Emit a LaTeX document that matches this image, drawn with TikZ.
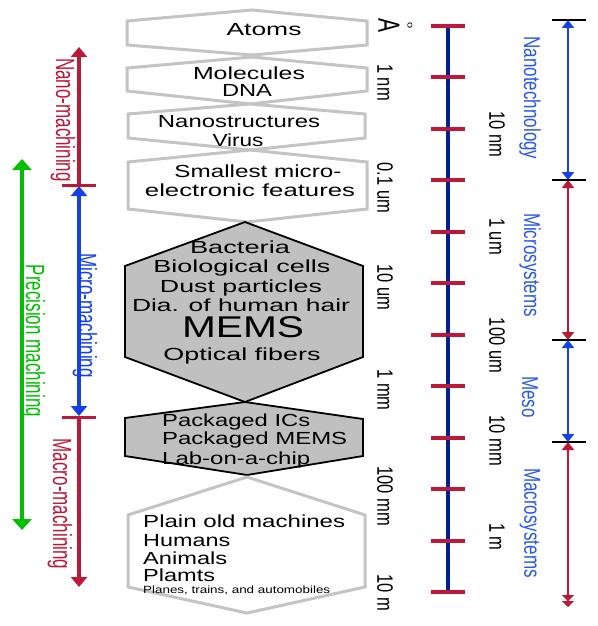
\documentclass[tikz,border=0pt]{standalone}
\usepackage{fontspec}
\setmainfont{Liberation Sans}
\usepackage{graphicx}
\usetikzlibrary{arrows.meta}
\definecolor{crim}{RGB}{188,24,56}
\definecolor{brblue}{RGB}{20,64,232}
\definecolor{txtblue}{RGB}{40,88,232}
\definecolor{dkblue}{RGB}{0,32,152}
\definecolor{grn}{RGB}{0,192,0}
\definecolor{lgray}{RGB}{196,196,196}
\definecolor{mgray}{RGB}{192,192,192}
\newcommand\fitw[2]{\resizebox{#1pt}{\height}{#2}}
\newcommand\tallr[2]{\scalebox{1}[#1]{#2}}
\begin{document}
\begin{tikzpicture}[x=1pt,y=-1pt,
  txt/.style={inner sep=0pt, anchor=base, font=\fontsize{17.5}{21}\selectfont},
  txtl/.style={txt, anchor=base west},
  rlab/.style={rotate=-90, inner sep=0pt, font=\fontsize{17}{20}\selectfont},
  slab/.style={rotate=-90, inner sep=0pt, font=\fontsize{16.5}{20}\selectfont},
  hexw/.style={draw=lgray, line width=3pt, fill=white},
  hexg/.style={draw=black, line width=1.8pt, fill=mgray},
  bigone/.style={line width=4pt, -{Triangle[width=16pt,length=10pt]}},
  bigtwo/.style={line width=4pt, {Triangle[width=16pt,length=10pt]}-{Triangle[width=16pt,length=10pt]}},
  grntwo/.style={line width=4pt, {Triangle[width=19pt,length=11pt]}-{Triangle[width=19pt,length=11pt]}},
  smtwo/.style={line width=2.5pt, {Triangle[width=12pt,length=8pt]}-{Triangle[width=12pt,length=8pt]}},
  smend/.style={line width=2.5pt, {Triangle[width=12pt,length=8pt]}-{Triangle[width=12pt,length=6pt]Triangle[width=12pt,length=6pt]}},
  lefttick/.style={crim, line width=3pt},
  righttick/.style={black, line width=1.3pt},
  scaletick/.style={crim, line width=4pt}
]
\useasboundingbox (0,0) rectangle (597,626);
\fill[white] (0,0) rectangle (597,626);

% hexagons
\draw[hexw] (127,21) -- (252,10) -- (367,21) -- (367,45) -- (252,55) -- (127,45) -- cycle;
\draw[hexw] (127,68) -- (252,57) -- (367,68) -- (367,91) -- (250,104) -- (127,91) -- cycle;
\draw[hexw] (128,114) -- (250,104) -- (365,114) -- (365,138) -- (250,150) -- (128,138) -- cycle;
\draw[hexw] (128,162) -- (250,150) -- (367,162) -- (367,209) -- (247,222) -- (128,209) -- cycle;
\draw[hexg] (245,222) -- (363,266) -- (363,357) -- (245,402) -- (125,357) -- (125,266) -- cycle;
\draw[hexg] (245,402) -- (363,419) -- (363,456) -- (247,475) -- (125,456) -- (125,418) -- cycle;
\draw[hexw] (247,477) -- (365,515) -- (365,587) -- (247,613) -- (128,587) -- (128,515) -- cycle;

% hexagon texts
\node[txt] (tAtoms) at (264,35.3) {\fitw{75}{Atoms}};
\node[txt] (tMol) at (249,79.3) {\fitw{112}{Molecules}};
\node[txt] (tDNA) at (247,96.3) {\fitw{50}{DNA}};
\node[txt] (tNano) at (239,127.8) {\fitw{162}{Nanostructures}};
\node[txt] (tVirus) at (238,146.3) {\fitw{51}{Virus}};
\node[txt] (tSmall) at (258,177.8) {\fitw{167}{Smallest micro-}};
\node[txt] (tElec) at (250,196.3) {\fitw{210}{electronic features}};
\node[txt] (tBact) at (240,253.3) {\fitw{100}{Bacteria}};
\node[txt] (tBio) at (242,272.8) {\fitw{177}{Biological cells}};
\node[txt] (tDust) at (241,292.8) {\fitw{162}{Dust particles}};
\node[txt] (tHair) at (241,311.3) {\fitw{218}{Dia. of human hair}};
\node[txt, font=\fontsize{30}{34}\selectfont] (tMEMS) at (243,337.7) {\fitw{122}{MEMS}};
\node[txt] (tOpt) at (242,360.3) {\fitw{157}{Optical fibers}};
\node[txtl] (tPIC) at (162,426.3) {\fitw{148}{Packaged ICs}};
\node[txtl] (tPMEMS) at (162,444.3) {\fitw{185}{Packaged MEMS}};
\node[txtl] (tLab) at (162,464.3) {\fitw{148}{Lab-on-a-chip}};
\node[txtl] (tPlain) at (143,527.3) {\fitw{202}{Plain old machines}};
\node[txtl] (tHum) at (143,546.3) {\fitw{87}{Humans}};
\node[txtl] (tAni) at (143,564.3) {\fitw{84}{Animals}};
\node[txtl] (tPla) at (143,581.8) {\fitw{72}{Plamts}};
\node[txtl, font=\fontsize{10.5}{12}\selectfont] (tPlanes) at (143,593) {\fitw{187}{Planes, trains, and automobiles}};

% scale
\coordinate (scTop) at (448,26);
\coordinate (scBot) at (448,592);
\draw[dkblue, line width=4pt] (scTop) -- (scBot);
\foreach \i in {0,...,11} {
  \coordinate (tk\i l) at (431,{26+51.45*\i});
  \coordinate (tk\i r) at (465,{26+51.45*\i});
  \draw[scaletick] (tk\i l) -- (tk\i r);
}
\node[rotate=-90, inner sep=0pt, font=\fontsize{21}{24}\selectfont] (sA) at (389,26) {\tallr{1.46}{A}};
\node[rotate=-90, inner sep=0pt, font=\fontsize{11}{12}\selectfont] (sRing) at (410,25.5) {\tallr{0.8}{o}};
\node[slab] (s1nm) at (385,82.5) {\tallr{1.35}{1 nm}};
\node[slab] (s01um) at (385,188) {\tallr{1.35}{0.1 um}};
\node[slab] (s10um) at (385,287.5) {\tallr{1.35}{10 um}};
\node[slab] (s1mm) at (385,390) {\tallr{1.35}{1 mm}};
\node[slab] (s100mm) at (385,496) {\tallr{1.35}{100 mm}};
\node[slab] (s10m) at (385,592.5) {\tallr{1.35}{10 m}};
\node[slab] (s10nm) at (497,134.5) {\tallr{1.35}{10 nm}};
\node[slab] (s1um) at (497,236.5) {\tallr{1.35}{1 um}};
\node[slab] (s100um) at (497,345.5) {\tallr{1.35}{100 um}};
\node[slab] (s10mm) at (497,441) {\tallr{1.35}{10 mm}};
\node[slab] (s1m) at (497,537) {\tallr{1.35}{1 m}};

% left arrows
\coordinate (nmTop) at (79,47);
\coordinate (nmBot) at (79,185);
\coordinate (mmTop) at (79,186);
\coordinate (mmBot) at (79,416);
\coordinate (maTop) at (79,418);
\coordinate (maBot) at (79,587);
\coordinate (tkAl) at (62,185);
\coordinate (tkAr) at (96,185);
\coordinate (tkBl) at (62,417);
\coordinate (tkBr) at (96,417);
\coordinate (prTop) at (22,159);
\coordinate (prBot) at (22,530);
\draw[crim, bigone] (nmBot) -- (nmTop);
\draw[brblue, bigtwo] (mmTop) -- (mmBot);
\draw[crim, bigone] (maTop) -- (maBot);
\draw[lefttick] (tkAl) -- (tkAr);
\draw[lefttick] (tkBl) -- (tkBr);
\draw[grn, grntwo] (prTop) -- (prBot);
\node[rlab, text=crim] (lNano) at (63,120) {\tallr{1.55}{Nano-machining}};
\node[rlab, text=brblue] (lMicro) at (85,315.5) {\tallr{1.55}{Micro-machining}};
\node[rlab, text=crim] (lMacro) at (60,504) {\tallr{1.55}{Macro-machining}};
\node[rlab, text=grn] (lPrec) at (33,341) {\tallr{1.55}{Precision machining}};

% right arrows
\foreach \n/\y in {a/20,b/180,c/340,d/442} {
  \coordinate (r\n l) at (552,\y);
  \coordinate (r\n r) at (586,\y);
  \coordinate (r\n) at (568,\y);
  \draw[righttick] (r\n l) -- (r\n r);
}
\coordinate (rEnd) at (568,607);
\draw[brblue, smtwo] (ra) -- (rb);
\draw[crim, smtwo] (rb) -- (rc);
\draw[brblue, smtwo] (rc) -- (rd);
\draw[crim, smend] (rd) -- (rEnd);
\node[rlab, text=txtblue] (rNano) at (530,98) {\tallr{1.35}{Nanotechnology}};
\node[rlab, text=txtblue] (rMicro) at (530,265) {\tallr{1.35}{Microsystems}};
\node[rlab, text=txtblue] (rMeso) at (530,397) {\tallr{1.35}{Meso}};
\node[rlab, text=txtblue] (rMacro) at (530,523) {\tallr{1.35}{Macrosystems}};
\end{tikzpicture}
\end{document}
